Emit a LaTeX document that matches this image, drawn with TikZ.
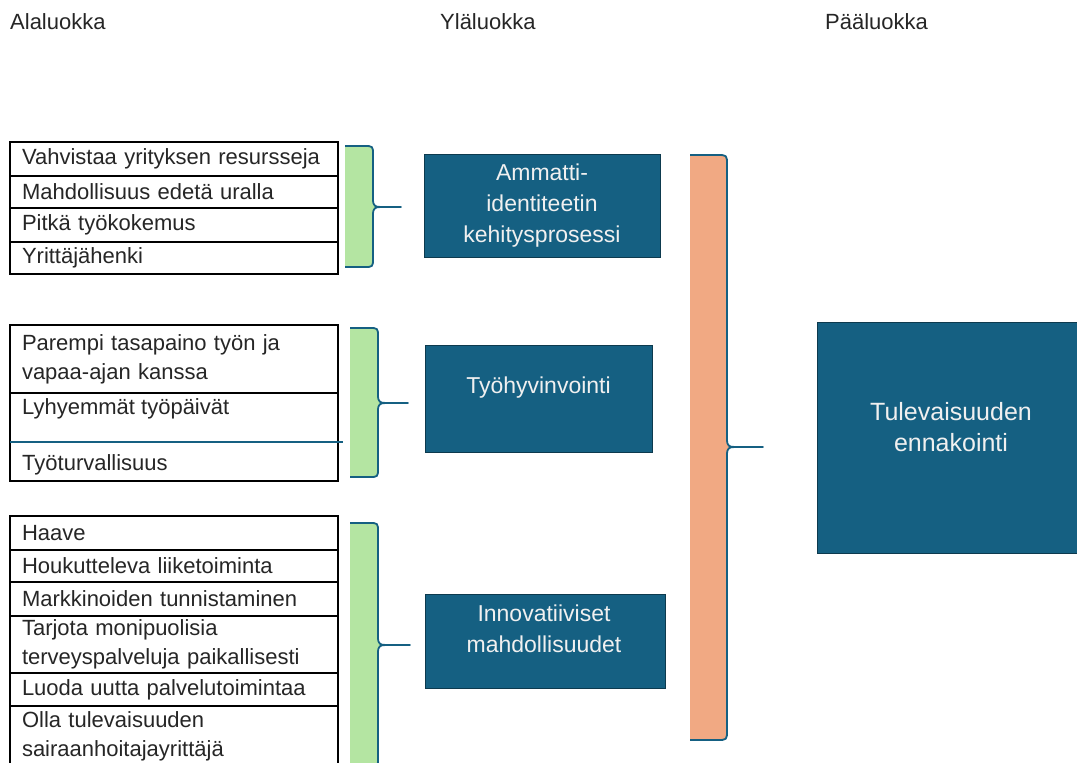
\documentclass[tikz,border=0pt]{standalone}
\usepackage{fontspec}
\setmainfont{Liberation Sans}
\definecolor{dteal}{HTML}{156082}
\definecolor{lgreen}{HTML}{B4E5A2}
\definecolor{lorange}{HTML}{F1A983}
\definecolor{txt}{HTML}{262626}
% #1 left x, #2 right x, #3 tip x, #4 top y, #5 bottom y, #6 tip y, #7 fill, #8 corner radius
\newcommand{\mkbrace}[8]{%
 \fill[#7] (#1,#4) -- ({#2-#8},#4) .. controls (#2,#4) .. (#2,{#4+#8}) -- (#2,{#6-8}) .. controls (#2,{#6-1}) and ({#2+2},#6) .. ({#2+8},#6) .. controls ({#2+2},#6) and (#2,{#6+1}) .. (#2,{#6+8}) -- (#2,{#5-#8}) .. controls (#2,#5) .. ({#2-#8},#5) -- (#1,#5) -- cycle;
 \draw[bracedraw] (#1,#4) -- ({#2-#8},#4) .. controls (#2,#4) .. (#2,{#4+#8}) -- (#2,{#6-8}) .. controls (#2,{#6-1}) and ({#2+2},#6) .. ({#2+8},#6) -- (#3,#6) -- ({#2+8},#6) .. controls ({#2+2},#6) and (#2,{#6+1}) .. (#2,{#6+8}) -- (#2,{#5-#8}) .. controls (#2,#5) .. ({#2-#8},#5) -- (#1,#5);
}
\begin{document}
\begin{tikzpicture}[x=1pt,y=-1pt,
  cell/.style={draw=black,line width=1.3pt,anchor=north west,minimum width=328pt,
    inner xsep=12pt,inner ysep=0pt,text width=304pt,align=left,
    font=\fontsize{22}{29}\selectfont,text=txt,outer sep=0pt},
  celltext/.style={anchor=west,inner sep=0pt,font=\fontsize{22}{29}\selectfont,text=txt},
  head/.style={anchor=west,inner sep=0pt,font=\fontsize{22}{26}\selectfont,text=txt},
  tealbox/.style={draw=dteal!60!black,line width=1pt,fill=dteal,inner sep=0pt},
  boxtext/.style={align=center,text=white!94!black,inner sep=0pt,font=\fontsize{23}{31}\selectfont},
  bigtext/.style={align=center,text=white!94!black,inner sep=0pt,font=\fontsize{25}{31}\selectfont},
  bracedraw/.style={draw=dteal,line width=1.8pt,line join=round},
  sepline/.style={draw=dteal,line width=1.3pt}]
\fill[white] (0,0) rectangle (1077,763);
\useasboundingbox (0,0) rectangle (1077,763);

% headers
\node[head] (h1) at (10,22) {Alaluokka};
\node[head] (h2) at (440,22) {Yläluokka};
\node[head] (h3) at (825,22) {Pääluokka};

% group 1 cells
\node[cell,minimum height=34pt] (a1) at (10,142) {Vahvistaa yrityksen resursseja};
\node[cell,minimum height=32pt] (a2) at (10,176) {Mahdollisuus edetä uralla};
\node[cell,minimum height=34pt] (a3) at (10,208) {Pitkä työkokemus};
\node[cell,minimum height=32pt] (a4) at (10,242) {Yrittäjähenki};

% group 2 cells
\node[cell,minimum height=68pt] (b1) at (10,325) {Parempi tasapaino työn ja\\vapaa-ajan kanssa};
\node[cell,minimum height=88pt] (b2) at (10,393) {};
\node[celltext] (b2t) at (22,409) {Lyhyemmät työpäivät};
\node[celltext] (b3t) at (22,465) {Työturvallisuus};
\coordinate (s1) at (10,442);
\coordinate (s2) at (343,442);
\draw[sepline] (s1) -- (s2);

% group 3 cells
\node[cell,minimum height=34pt] (c1) at (10,516) {Haave};
\node[cell,minimum height=32pt] (c2) at (10,550) {Houkutteleva liiketoiminta};
\node[cell,minimum height=34pt] (c3) at (10,582) {Markkinoiden tunnistaminen};
\node[cell,minimum height=57pt] (c4) at (10,616) {Tarjota monipuolisia\\terveyspalveluja paikallisesti};
\node[cell,minimum height=33pt] (c5) at (10,673) {Luoda uutta palvelutoimintaa};
\node[cell,minimum height=60pt] (c6) at (10,706) {Olla tulevaisuuden\\sairaanhoitajayrittäjä};

% braces
\mkbrace{345}{373}{401}{146}{267}{207}{lgreen}{9}
\mkbrace{350}{378}{408}{328}{477}{403}{lgreen}{9}
\mkbrace{350}{378}{410}{523}{767}{645}{lgreen}{9}
\mkbrace{690}{727}{763}{155}{740}{447}{lorange}{10}

% upper-level boxes
\node[tealbox,minimum width=236pt,minimum height=103pt] (u1) at (542,205.5) {};
\node[boxtext] (u1t) at (542,206) {Ammatti-\\identiteetin\\kehitysprosessi};
\node[tealbox,minimum width=227pt,minimum height=107pt] (u2) at (538.5,398.5) {};
\node[boxtext] (u2t) at (538.5,388) {Työhyvinvointi};
\node[tealbox,minimum width=240pt,minimum height=94pt] (u3) at (545,641) {};
\node[boxtext] (u3t) at (544,628.5) {Innovatiiviset\\mahdollisuudet};

% main box
\node[tealbox,minimum width=273pt,minimum height=231pt] (m) at (953.5,437.5) {};
\node[bigtext] (mt) at (951,427.5) {Tulevaisuuden\\ennakointi};
\end{tikzpicture}
\end{document}
